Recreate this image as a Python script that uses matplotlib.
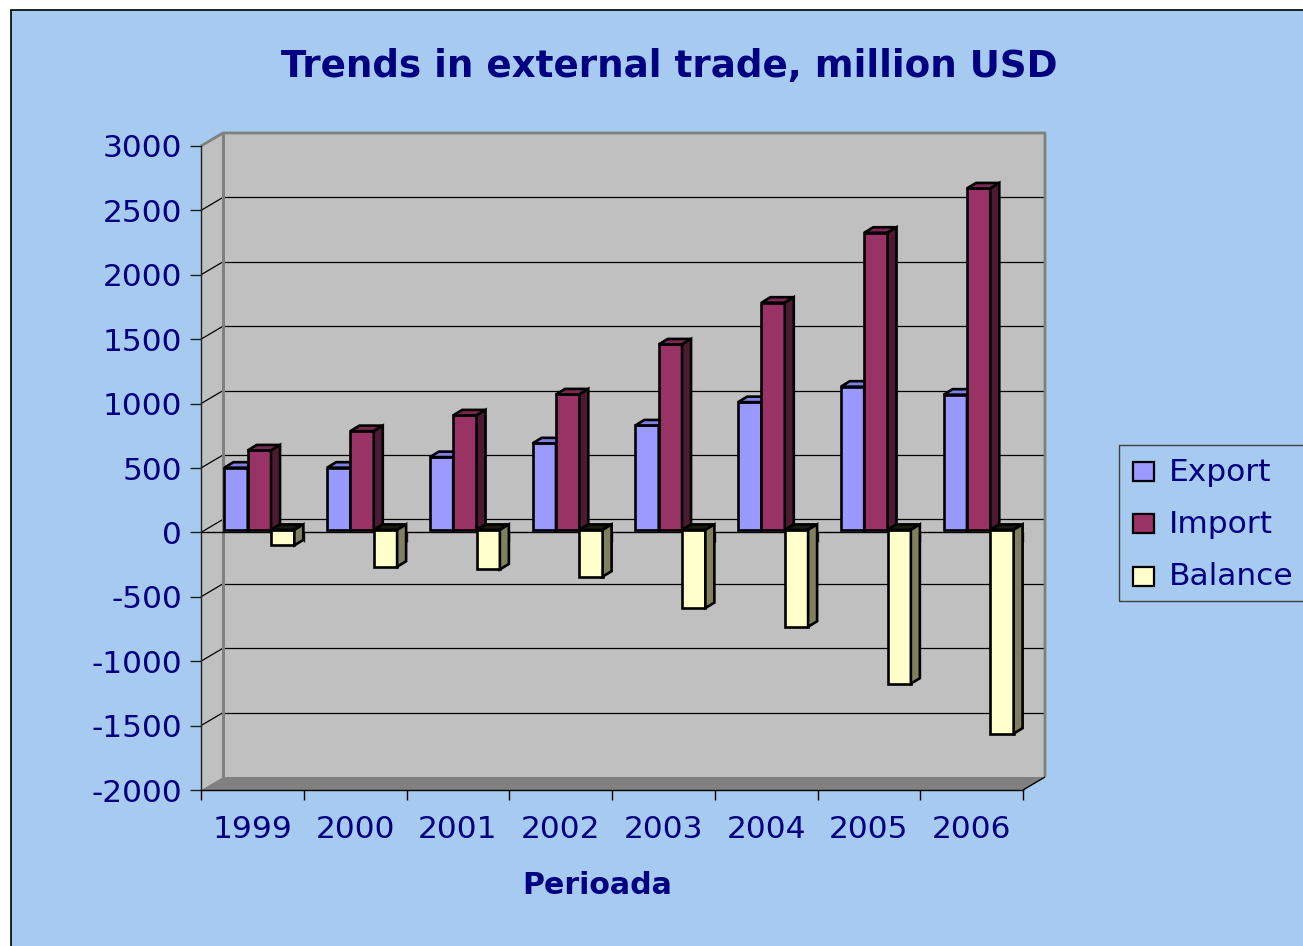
import numpy as np
import matplotlib
matplotlib.use("Agg")
import matplotlib.pyplot as plt
from matplotlib.patches import Polygon, Rectangle
from matplotlib.lines import Line2D
import matplotlib.transforms as mtransforms

# ---- data (million USD) ----
years = ["1999", "2000", "2001", "2002", "2003", "2004", "2005", "2006"]
export = [483, 483, 565, 672, 811, 992, 1112, 1050]
imports = [617, 767, 889, 1052, 1440, 1764, 2307, 2651]
balance = [-120, -286, -307, -363, -607, -752, -1194, -1582]
series_names = ["Export", "Import", "Balance"]
y_ticks = list(range(-2000, 3001, 500))

# ---- styling ----
NAVY = "#000080"
BG = "#A6CAF0"
WALL = "#C0C0C0"
FLOOR = "#808080"
front_colors = ["#9999FF", "#993366", "#FFFFCC"]
top_colors = ["#7F7FE6", "#7A2952", "#1A1A10"]
side_colors = ["#5C5CB8", "#4D1A33", "#80805F"]

W, H = 1303, 946
fig = plt.figure(figsize=(W / 100, H / 100), dpi=100)
fig.patch.set_facecolor("white")

# top-origin pixel coordinates of the figure
px = mtransforms.Affine2D().scale(1 / W, -1 / H).translate(0, 1) + fig.transFigure
ident = mtransforms.IdentityTransform()


def fig_rect(x0, y0, x1, y1):
    return [x0 / W, 1 - y1 / H, (x1 - x0) / W, (y1 - y0) / H]


# chart area background with border
fig.add_artist(Rectangle((11, 10), 1400, 1000, transform=px, facecolor=BG,
                         edgecolor="black", linewidth=1.2, zorder=-10))

# front plane carries the axes; bar plane sits slightly deeper
ax_front = fig.add_axes(fig_rect(201, 146, 1023, 790))
ax_bar = fig.add_axes(fig_rect(208, 143.5, 1030, 787.5))
n = len(years)
for a in (ax_front, ax_bar):
    a.set_xlim(-0.5, n - 0.5)
    a.set_ylim(-2000, 3000)
    a.patch.set_alpha(0)
ax_bar.set_axis_off()
ax_front.set_zorder(1)
ax_bar.set_zorder(2)

DEPTH = np.array([22.0, 13.0])       # wall depth in display pixels
BAR_DEPTH = np.array([9.0, 5.5])     # column depth in display pixels


def wall_pt(x, y, d):
    return ax_front.transData.transform((x, y)) + d * DEPTH


x_lo, x_hi = -0.5, n - 0.5
y_lo, y_hi = -2000, 3000


def add_poly(ax, pts, fc, z, ec="none", lw=0):
    ax.add_patch(Polygon(np.array(pts), closed=True, facecolor=fc, edgecolor=ec,
                         linewidth=lw, transform=ident, clip_on=False, zorder=z,
                         joinstyle="miter"))


# walls and floor
add_poly(ax_front, [wall_pt(x_lo, y_hi, 1), wall_pt(x_hi, y_hi, 1),
                    wall_pt(x_hi, y_lo, 1), wall_pt(x_lo, y_lo, 1)], WALL, 0.1)
add_poly(ax_front, [wall_pt(x_lo, y_lo, 0), wall_pt(x_hi, y_lo, 0),
                    wall_pt(x_hi, y_lo, 1), wall_pt(x_lo, y_lo, 1)], FLOOR, 0.2)
add_poly(ax_front, [wall_pt(x_lo, y_hi, 0), wall_pt(x_lo, y_hi, 1),
                    wall_pt(x_lo, y_lo, 1), wall_pt(x_lo, y_lo, 0)], WALL, 0.3)


def add_line(ax, pts, color, lw, z):
    pts = np.array(pts)
    ax.add_line(Line2D(pts[:, 0], pts[:, 1], color=color, linewidth=lw,
                       transform=ident, clip_on=False, zorder=z,
                       solid_capstyle="butt"))


# gridlines on back and left walls
for v in y_ticks[1:-1]:
    add_line(ax_front, [wall_pt(x_lo, v, 1), wall_pt(x_hi, v, 1)], "black", 0.9, 0.5)
    add_line(ax_front, [wall_pt(x_lo, v, 0), wall_pt(x_lo, v, 1)], "black", 0.9, 0.5)

# wall edges
add_line(ax_front, [wall_pt(x_lo, y_hi, 1), wall_pt(x_lo, y_lo, 1)], "#808080", 2.2, 0.6)
add_line(ax_front, [wall_pt(x_lo, y_hi, 0), wall_pt(x_lo, y_hi, 1),
                    wall_pt(x_hi, y_hi, 1), wall_pt(x_hi, y_lo, 1)], "#808080", 2.0, 0.6)
add_line(ax_front, [wall_pt(x_hi, y_lo, 0), wall_pt(x_hi, y_lo, 1)], "black", 1.0, 0.6)

# zero line across the front with category ticks
boundaries = np.arange(x_lo, x_hi + 0.01, 1.0)
ax_front.axhline(0, color="black", linewidth=1.0, zorder=0.7)
ax_front.plot(boundaries[1:], np.zeros(len(boundaries) - 1), ls="none", marker=3,
              ms=7.2, mew=1.0, color="#202020", zorder=0.7, clip_on=False)

# axes styling
for s in ("top", "right"):
    ax_front.spines[s].set_visible(False)
ax_front.spines["left"].set_color("#202020")
ax_front.spines["left"].set_linewidth(1.0)
ax_front.spines["bottom"].set_color("black")
ax_front.spines["bottom"].set_linewidth(1.0)
ax_front.spines["left"].set_zorder(3)
ax_front.spines["bottom"].set_zorder(3)
ax_front.set_yticks(y_ticks)
ax_front.set_yticklabels([str(v) for v in y_ticks])
ax_front.tick_params(axis="y", direction="out", length=7.9, width=1.0, color="#202020",
                     labelsize=22.5, labelcolor=NAVY, pad=5.8)
ax_front.set_xticks(boundaries)
ax_front.set_xticklabels([])
ax_front.tick_params(axis="x", direction="out", length=7.2, width=1.0, color="black")

# category labels
xlab_tr = mtransforms.blended_transform_factory(ax_front.transData, px)
for i, yr in enumerate(years):
    ax_front.text(i, 838, yr, transform=xlab_tr, ha="center", va="baseline",
                  fontsize=22.5, color=NAVY)

# 3D-looking columns
x = np.arange(n)
w = 0.227
offsets = [-w, 0.0, w]
series = [export, imports, balance]
EDGE_LW = 1.9
containers = []
for s, vals in enumerate(series):
    containers.append(ax_bar.bar(x + offsets[s], vals, width=w, color=front_colors[s],
                                 edgecolor="black", linewidth=EDGE_LW,
                                 label=series_names[s]))

T = ax_bar.transData.transform
for i in range(n):
    for s in range(3):
        rect = containers[s].patches[i]
        rect.set_joinstyle("miter")
        z = 5 + (i * 3 + s)
        rect.set_zorder(z)
        x0 = rect.get_x()
        x1 = x0 + rect.get_width()
        v = series[s][i]
        top = max(v, 0)
        bot = min(v, 0)
        p0, p1 = T((x0, top)), T((x1, top))
        add_poly(ax_bar, [p0, p1, p1 + BAR_DEPTH, p0 + BAR_DEPTH], top_colors[s], z + 0.2,
                 ec="black", lw=EDGE_LW)
        q0, q1 = T((x1, top)), T((x1, bot))
        add_poly(ax_bar, [q0, q1, q1 + BAR_DEPTH, q0 + BAR_DEPTH], side_colors[s], z + 0.4,
                 ec="black", lw=EDGE_LW)

# title and axis title
fig.text(669, 76.7, "Trends in external trade, million USD", transform=px,
         ha="center", va="baseline", fontsize=26.8, fontweight="bold", color=NAVY)
fig.text(597, 894, "Perioada", transform=px, ha="center", va="baseline",
         fontsize=21.6, fontweight="bold", color=NAVY)

# legend
fig.add_artist(Rectangle((1119, 445), 300, 156, transform=px, facecolor=BG,
                         edgecolor="#404040", linewidth=1.0, zorder=5))
legend_rows = [(471, 480.7), (523, 532.7), (576, 585)]
for s, (cy, base) in enumerate(legend_rows):
    fig.add_artist(Rectangle((1133, cy - 9.5), 21, 19, transform=px,
                             facecolor=front_colors[s], edgecolor="black",
                             linewidth=1.6, zorder=6))
    fig.text(1169, base, series_names[s], transform=px, ha="left", va="baseline",
             fontsize=22.5, color=NAVY, zorder=6)

fig.savefig("out.png", dpi=100)
